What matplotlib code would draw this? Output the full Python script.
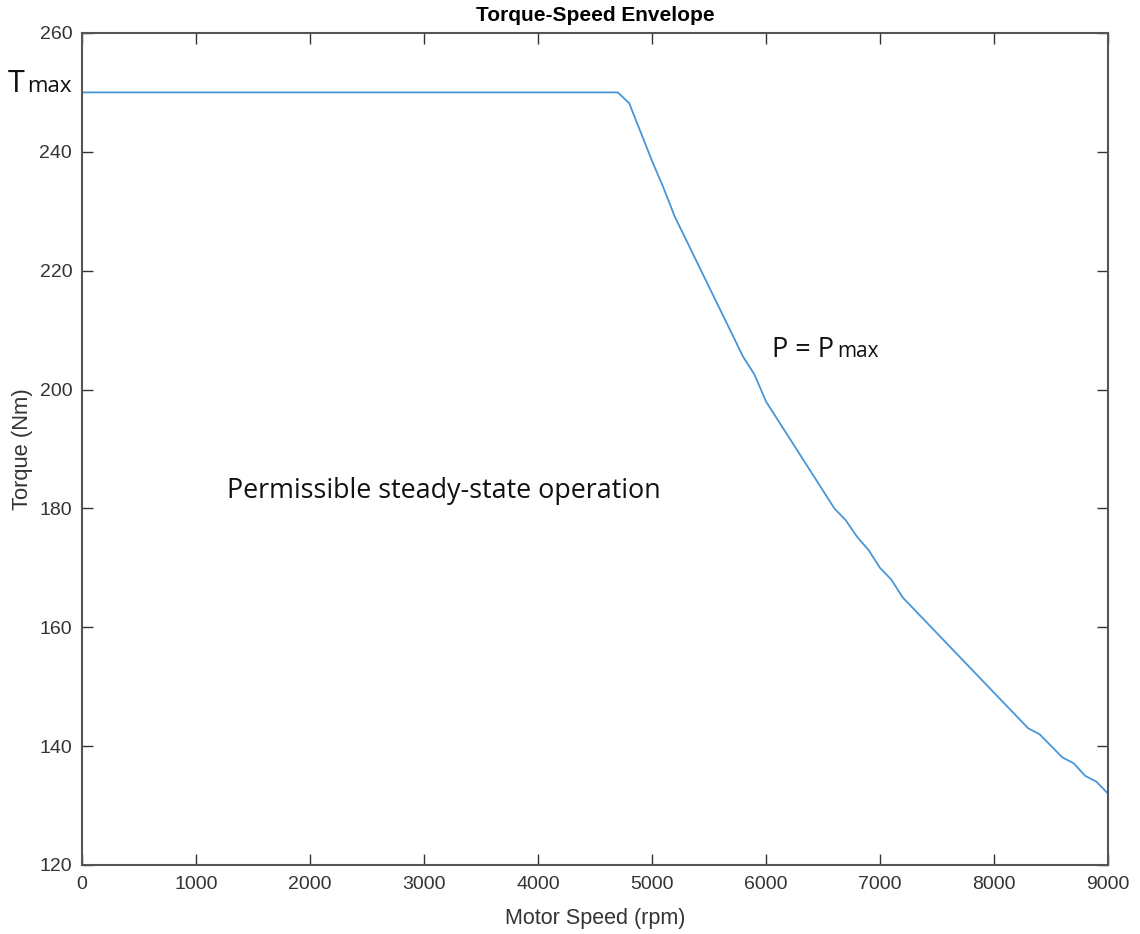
import matplotlib.pyplot as plt
import matplotlib.transforms as mtransforms

# torque-speed envelope
speed = [0, 4700, 4800, 5000, 5100, 5200, 5800, 5900, 6000, 6600, 6700, 6800,
         6900, 7000, 7100, 7200, 8300, 8400, 8600, 8700, 8800, 8900, 9000]
torque = [250, 250, 248.2, 238.5, 234, 229.1, 205.5, 202.5, 198, 180, 178, 175.2,
          173, 170, 168, 165, 143, 142, 138.1, 137.1, 135, 134, 132]

xticks = list(range(0, 9001, 1000))
yticks = list(range(120, 261, 20))

axis_col = "#333333"
plt.rcParams["font.family"] = ["Liberation Sans", "DejaVu Sans"]

fig = plt.figure(figsize=(11.4, 9.34), dpi=100)
ax = fig.add_axes([0.0719, 0.0739, 0.9, 0.8908])

ax.plot(speed, torque, color="#4796D8", lw=1.3)

ax.set_xlim(0, 9000)
ax.set_ylim(120, 260)
ax.set_xticks(xticks)
ax.set_yticks(yticks)
ax.tick_params(direction="in", length=8, width=1, top=True, right=True,
               labelsize=14, colors=axis_col)
ax.tick_params(axis="x", pad=8)
ax.tick_params(axis="y", pad=7)
for sp in ax.spines.values():
    sp.set_color("#555555")
    sp.set_linewidth(1.5)

ax.set_xlabel("Motor Speed (rpm)", fontsize=15.5, color=axis_col)
ax.set_ylabel("Torque (Nm)", fontsize=15.8, color=axis_col)
ax.xaxis.set_label_coords(0.5, -0.052)
ax.yaxis.set_label_coords(-0.048, 0.5)
ax.set_title("Torque-Speed Envelope", fontsize=15, fontweight="bold", pad=8.6)

# annotations
ann = ["Open Sans", "DejaVu Sans"]
trans = mtransforms.blended_transform_factory(ax.transAxes, ax.transData)
ax.text(-0.0721, 250.1, "T", transform=trans, fontsize=22, family=ann,
        va="baseline", ha="left", color="#111111", clip_on=False)
ax.text(-0.0536, 250.1, "max", transform=trans, fontsize=16, family=ann,
        va="baseline", ha="left", color="#111111", clip_on=False)

ax.text(6050, 205.5, "P = P", fontsize=19.5, family=ann, va="baseline", color="#111111")
ax.text(6623, 205.5, "max", fontsize=15, family=ann, va="baseline", color="#111111")

ax.text(1270, 181.8, "Permissible steady-state operation", fontsize=19.4,
        family=ann, va="baseline", color="#111111")

fig.savefig("out.png", dpi=100)
